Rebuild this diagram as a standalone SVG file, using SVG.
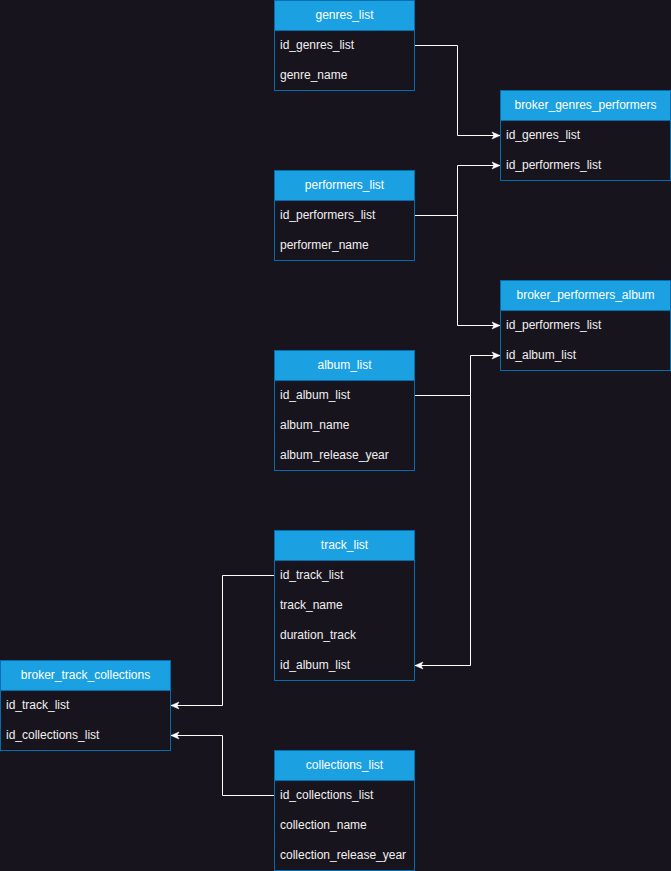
<svg xmlns="http://www.w3.org/2000/svg" width="671" height="871" viewBox="0 0 671 871">
<style>
.bg{fill:#18141d}
.frame{fill:#18141d;stroke:#006eaf;stroke-width:1}
.head{fill:#1ba1e2;stroke:#006eaf;stroke-width:1}
.ht{font-family:"Liberation Sans",Arial,sans-serif;font-size:12px;fill:#ffffff;text-anchor:middle}
.rt{font-family:"Liberation Sans",Arial,sans-serif;font-size:12px;fill:#f0f0f0}
.edge{fill:none;stroke:#ffffff;stroke-width:1}
</style>
<defs>
<marker id="arr" markerUnits="userSpaceOnUse" markerWidth="10" markerHeight="10" viewBox="0 0 10 10" refX="9" refY="5" orient="auto">
<path d="M1,1.5 L9,5 L1,8.5 L3,5 Z" fill="#ffffff" stroke="#ffffff" stroke-width="0.5"/>
</marker>
</defs>
<rect class="bg" x="0" y="0" width="671" height="871"/>
<g id="connectors">
<path class="edge" d="M414.5,45.5 H457.5 V135.5 H500" marker-end="url(#arr)"/>
<path class="edge" d="M414.5,215.5 H457.5 V165.5 H500" marker-end="url(#arr)"/>
<path class="edge" d="M414.5,215.5 H457.5 V325.5 H500" marker-end="url(#arr)"/>
<path class="edge" d="M414.5,395.5 H470.5 V355.5 H500" marker-end="url(#arr)"/>
<path class="edge" d="M414.5,395.5 H470.5 V665.5 H415" marker-end="url(#arr)"/>
<path class="edge" d="M274.5,575.5 H222.5 V705.5 H171" marker-end="url(#arr)"/>
<path class="edge" d="M274.5,795.5 H222.5 V735.5 H171" marker-end="url(#arr)"/>
</g>
<g id="genres_list">
<rect class="frame" x="274.5" y="0.5" width="140" height="90"/>
<rect class="head" x="274.5" y="0.5" width="140" height="30"/>
<text class="ht" x="344.5" y="18.5">genres_list</text>
<text class="rt" x="280" y="48.5">id_genres_list</text>
<text class="rt" x="280" y="78.5">genre_name</text>
</g>
<g id="broker_genres_performers">
<rect class="frame" x="500.5" y="90.5" width="170" height="90"/>
<rect class="head" x="500.5" y="90.5" width="170" height="30"/>
<text class="ht" x="585.5" y="108.5">broker_genres_performers</text>
<text class="rt" x="506" y="138.5">id_genres_list</text>
<text class="rt" x="506" y="168.5">id_performers_list</text>
</g>
<g id="performers_list">
<rect class="frame" x="274.5" y="170.5" width="140" height="90"/>
<rect class="head" x="274.5" y="170.5" width="140" height="30"/>
<text class="ht" x="344.5" y="188.5">performers_list</text>
<text class="rt" x="280" y="218.5">id_performers_list</text>
<text class="rt" x="280" y="248.5">performer_name</text>
</g>
<g id="broker_performers_album">
<rect class="frame" x="500.5" y="280.5" width="170" height="90"/>
<rect class="head" x="500.5" y="280.5" width="170" height="30"/>
<text class="ht" x="585.5" y="298.5">broker_performers_album</text>
<text class="rt" x="506" y="328.5">id_performers_list</text>
<text class="rt" x="506" y="358.5">id_album_list</text>
</g>
<g id="album_list">
<rect class="frame" x="274.5" y="350.5" width="140" height="120"/>
<rect class="head" x="274.5" y="350.5" width="140" height="30"/>
<text class="ht" x="344.5" y="368.5">album_list</text>
<text class="rt" x="280" y="398.5">id_album_list</text>
<text class="rt" x="280" y="428.5">album_name</text>
<text class="rt" x="280" y="458.5">album_release_year</text>
</g>
<g id="track_list">
<rect class="frame" x="274.5" y="530.5" width="140" height="150"/>
<rect class="head" x="274.5" y="530.5" width="140" height="30"/>
<text class="ht" x="344.5" y="548.5">track_list</text>
<text class="rt" x="280" y="578.5">id_track_list</text>
<text class="rt" x="280" y="608.5">track_name</text>
<text class="rt" x="280" y="638.5">duration_track</text>
<text class="rt" x="280" y="668.5">id_album_list</text>
</g>
<g id="broker_track_collections">
<rect class="frame" x="0.5" y="660.5" width="170" height="90"/>
<rect class="head" x="0.5" y="660.5" width="170" height="30"/>
<text class="ht" x="85.5" y="678.5">broker_track_collections</text>
<text class="rt" x="6" y="708.5">id_track_list</text>
<text class="rt" x="6" y="738.5">id_collections_list</text>
</g>
<g id="collections_list">
<rect class="frame" x="274.5" y="750.5" width="140" height="120"/>
<rect class="head" x="274.5" y="750.5" width="140" height="30"/>
<text class="ht" x="344.5" y="768.5">collections_list</text>
<text class="rt" x="280" y="798.5">id_collections_list</text>
<text class="rt" x="280" y="828.5">collection_name</text>
<text class="rt" x="280" y="858.5">collection_release_year</text>
</g>
</svg>
